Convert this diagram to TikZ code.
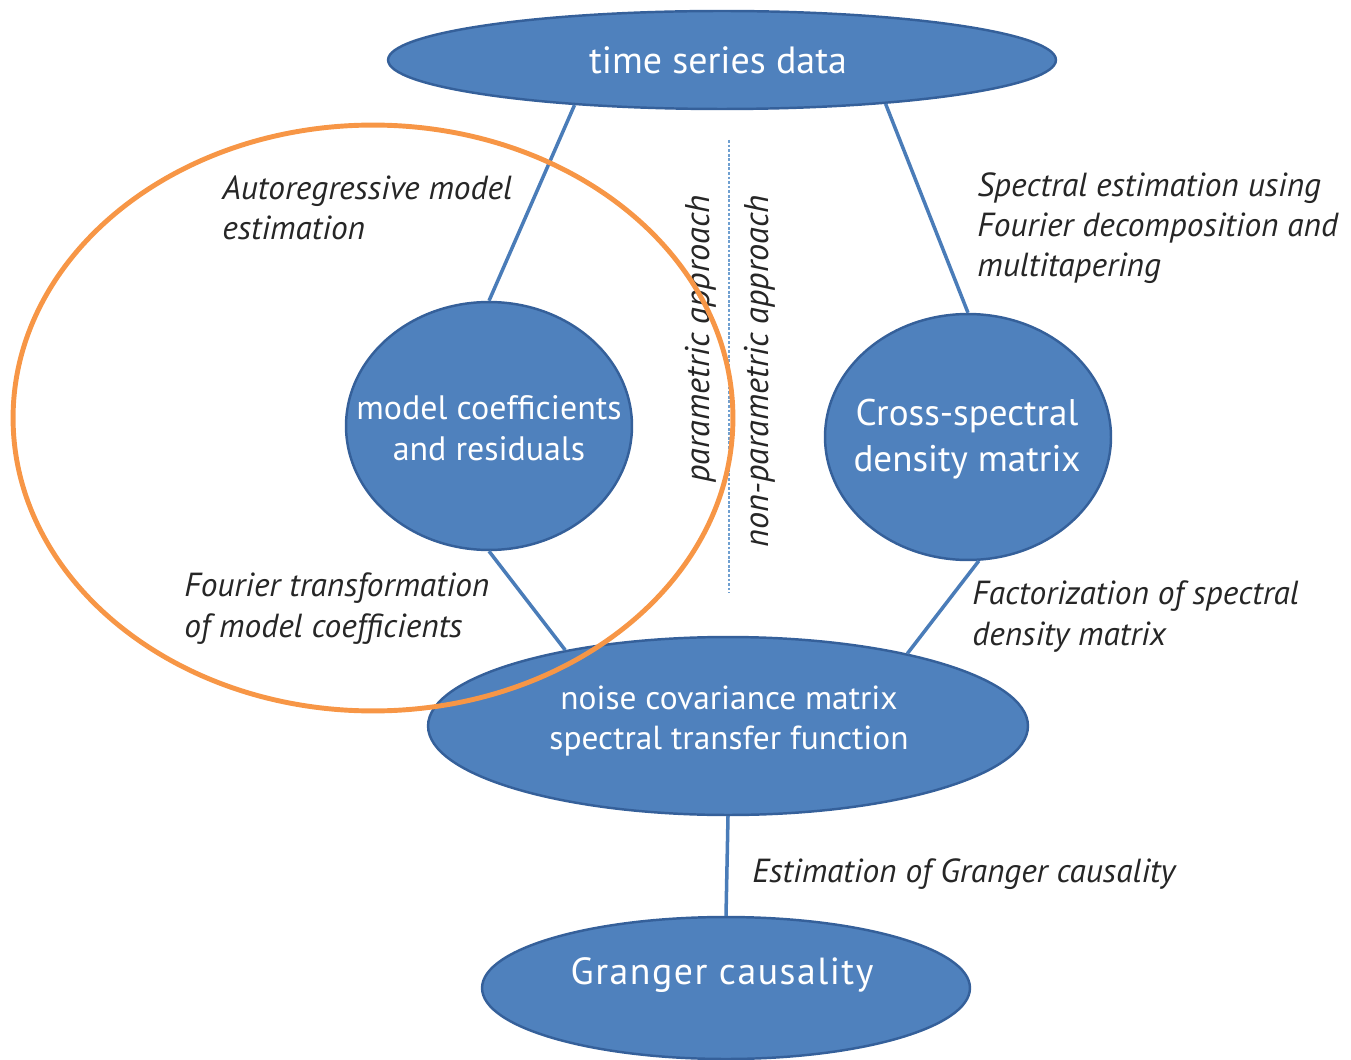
\documentclass[tikz,border=0pt]{standalone}
\usepackage{fontspec}
\setmainfont{PT Sans}
\usetikzlibrary{shapes.geometric}
\definecolor{nodeblue}{HTML}{4F81BD}
\definecolor{nodeborder}{HTML}{35609A}
\definecolor{linkblue}{HTML}{4A7CB8}
\definecolor{dashblue}{HTML}{6F9FD0}
\definecolor{orng}{HTML}{F79646}
\definecolor{lbl}{HTML}{262626}
\begin{document}
\begin{tikzpicture}[x=0.02cm,y=-0.02cm,
  blob/.style={ellipse, fill=nodeblue, draw=nodeborder, line width=1.4pt, inner sep=0pt},
  intext/.style={text=white, align=center, inner sep=0pt},
  link/.style={draw=linkblue, line width=2pt},
  sepline/.style={draw=dashblue, line width=0.7pt, dash pattern=on 1.6pt off 1pt},
  lab/.style={font=\fontsize{19}{22.8}\selectfont\itshape, text=lbl, align=left, inner sep=0pt, anchor=base west},
  rotlab/.style={font=\fontsize{19.5}{22.8}\selectfont\itshape, text=lbl, inner sep=0pt, rotate=90, anchor=base east}]
\useasboundingbox (0,0) rectangle (1351,1060);

% main nodes
\node[blob, minimum width=13.36cm, minimum height=1.96cm] (ts) at (722,60) {};
\node[blob, minimum width=5.72cm, minimum height=4.96cm] (mc) at (489,426) {};
\node[blob, minimum width=5.72cm, minimum height=4.92cm] (cs) at (968,437) {};
\node[blob, minimum width=12cm, minimum height=3.56cm] (nc) at (728,726) {};
\node[blob, minimum width=9.76cm, minimum height=2.84cm] (gc) at (726,988) {};

% texts inside nodes
\node[intext, font=\fontsize{21.6}{24}\selectfont] (tst) at (718,60) {time series data};
\node[intext, font=\fontsize{19.3}{23.3}\selectfont] (mct) at (489,428) {model coefficients\\and residuals};
\node[intext, font=\fontsize{21.1}{26}\selectfont] (cst) at (967,439) {Cross-spectral\\density matrix};
\node[intext, font=\fontsize{19}{23.3}\selectfont] (nct) at (729,721) {noise covariance matrix\\spectral transfer function};
\node[intext, font=\fontsize{21.5}{24}\selectfont\addfontfeature{LetterSpace=4}] (gct) at (722,975) {Granger causality};

% connectors
\draw[link] (ts.197.8) -- (mc.north);
\draw[link] (ts.345.4) -- (cs.north);
\draw[link] (mc.south) -- (nc.155.7);
\draw[link] (cs.275) -- (nc.22.7);
\draw[link] (nc.south) -- (gc.north);

% separator
\coordinate (dtop) at (729,140);
\coordinate (dbot) at (729,593);
\draw[sepline] (dtop) -- (dbot);

% labels (anchor at baseline of last line)
\node[lab] (l1) at (222,240) {Autoregressive model\\estimation};
\node[lab] (l2) at (977,277) {Spectral estimation using\\Fourier decomposition and\\multitapering};
\node[lab] (l3) at (184,637) {Fourier transformation\\of model coefficients};
\node[lab] (l4) at (972,645) {Factorization of spectral\\density matrix};
\node[lab] (l5) at (752,882) {Estimation of Granger causality};
\node[rotlab] (p1) at (709,195) {parametric approach};
\node[rotlab] (p2) at (768,195) {non-parametric approach};

% orange highlight
\draw[orng, line width=2.8pt] (373,418) ellipse [x radius=7.2cm, y radius=5.86cm];
\end{tikzpicture}
\end{document}
